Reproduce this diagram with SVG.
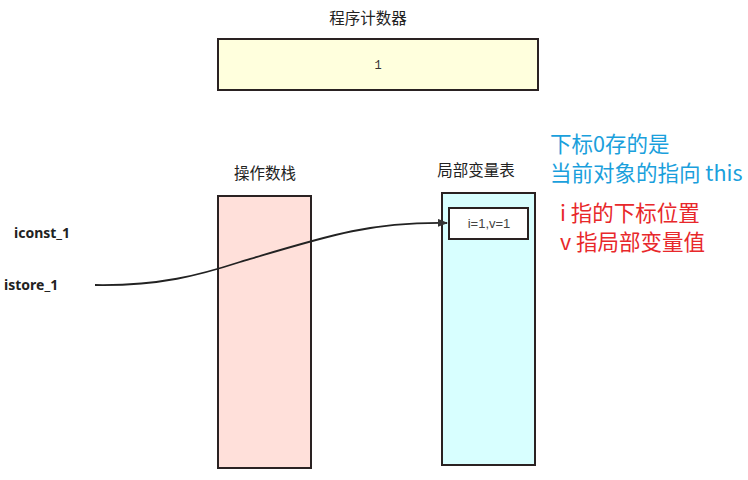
<svg xmlns="http://www.w3.org/2000/svg" width="748" height="480" viewBox="0 0 748 480">
<style>
.lbl{font-family:"Microsoft YaHei","Noto Sans CJK SC",sans-serif;font-size:15.5px;fill:#222;}
.op{font-family:"Noto Sans","Liberation Sans",sans-serif;font-size:14px;font-weight:bold;fill:#222;}
.box{stroke:#2a2222;stroke-width:2;}
.note{font-family:"Noto Sans CJK SC",sans-serif;font-size:21.5px;}
</style>
<defs>
<marker id="arr" markerWidth="10" markerHeight="8" refX="9" refY="4" orient="auto" markerUnits="userSpaceOnUse">
<path d="M0,0 L10,4 L0,8 Z" fill="#333"/>
</marker>
</defs>
<rect width="748" height="480" fill="#fff"/>
<g id="pc">
<text class="lbl" x="368" y="24" text-anchor="middle">程序计数器</text>
<rect class="box" x="218" y="39" width="320" height="51" fill="#ffffdd"/>
<text x="378" y="69" text-anchor="middle" font-family="Liberation Mono,monospace" font-size="12" fill="#333">1</text>
</g>
<g id="stack">
<text class="lbl" x="265" y="179" text-anchor="middle">操作数栈</text>
<rect class="box" x="218" y="196" width="93" height="272" fill="#ffe0da"/>
</g>
<g id="locals">
<text class="lbl" x="476" y="176" text-anchor="middle">局部变量表</text>
<rect class="box" x="442" y="193" width="93" height="272" fill="#d8ffff"/>
<rect class="box" x="449" y="208" width="79" height="31" fill="#fff"/>
<text x="489" y="228" text-anchor="middle" font-family="Liberation Sans,sans-serif" font-size="13" fill="#444">i=1,v=1</text>
</g>
<g id="ops">
<text class="op" x="14" y="238">iconst_1</text>
<text class="op" x="4" y="290">istore_1</text>
</g>
<g id="connectors">
<path d="M95,285 C160,286 200,275 240,262 C330,235 370,222 447,223" fill="none" stroke="#222" stroke-width="1.8" marker-end="url(#arr)"/>
</g>
<g id="notes">
<text class="note" x="550" y="152" fill="#1aa0dc">下标0存的是</text>
<text class="note" x="550" y="181" fill="#1aa0dc">当前对象的指向 this</text>
<text class="note" x="560" y="221" fill="#e8282b">i 指的下标位置</text>
<text class="note" x="560" y="250" fill="#e8282b">v 指局部变量值</text>
</g>
</svg>
